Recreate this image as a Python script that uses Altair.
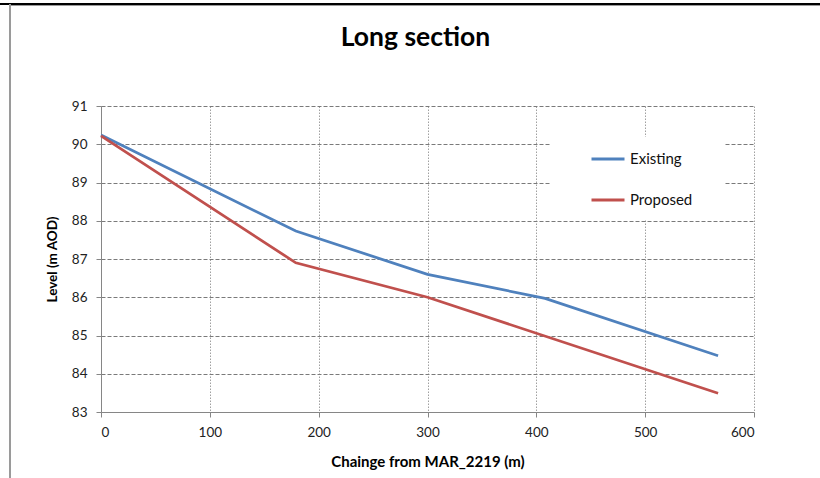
import altair as alt
import pandas as pd

# Chainage (m) and bed level (m AOD) along the reach
chainage_existing = [0, 179, 300, 408, 567]
level_existing = [90.24, 87.73, 86.60, 85.97, 84.47]
chainage_proposed = [0, 179, 300, 567]
level_proposed = [90.22, 86.90, 86.00, 83.49]

series_names = ["Existing", "Proposed"]
series_colors = ["#4F81BD", "#C0504D"]
x_ticks = [0, 100, 200, 300, 400, 500, 600]
y_ticks = [83, 84, 85, 86, 87, 88, 89, 90, 91]

rows = []
for c, l in zip(chainage_existing, level_existing):
    rows.append({"series": series_names[0], "chainage": c, "level": l})
for c, l in zip(chainage_proposed, level_proposed):
    rows.append({"series": series_names[1], "chainage": c, "level": l})
df = pd.DataFrame(rows)

FONT = "Lato"
W, H = 653, 306
PAD_L, PAD_T = 101, 106

lines = alt.Chart(df).mark_line(strokeWidth=2.75).encode(
    x=alt.X(
        "chainage:Q",
        scale=alt.Scale(domain=[0, 600], nice=False),
        axis=alt.Axis(
            values=x_ticks,
            title="Chainge from MAR_2219 (m)",
            titleFont=FONT, titleFontSize=15, titleFontWeight="bold", titleColor="#000",
            titleBaseline="middle", titleY=49, titleX=W / 2,
            labelFont=FONT, labelFontSize=13.5, labelColor="#222", labelPadding=8,
            domainColor="#868686", tickColor="#868686", tickSize=5,
            grid=True, gridColor="#a0a0a0", gridDash=[1.5, 1.5], gridWidth=1,
        ),
    ),
    y=alt.Y(
        "level:Q",
        scale=alt.Scale(domain=[83, 91], zero=False, nice=False),
        axis=alt.Axis(
            values=y_ticks,
            title="Level (m AOD)",
            titleFont=FONT, titleFontSize=13.5, titleFontWeight="bold", titleColor="#000",
            titleBaseline="middle", titleX=-49, titleY=H / 2, titleAngle=-90,
            labelFont=FONT, labelFontSize=13.5, labelColor="#222", labelPadding=9,
            domainColor="#868686", tickColor="#868686", tickSize=5,
            grid=True, gridColor="#7a7a7a", gridDash=[4, 2], gridWidth=1,
        ),
    ),
    color=alt.Color(
        "series:N",
        scale=alt.Scale(domain=series_names, range=series_colors),
        legend=alt.Legend(
            title=None, orient="none", legendX=450, legendY=31, padding=4,
            symbolType="stroke", symbolSize=1089, symbolStrokeWidth=3,
            symbolOffset=35, rowPadding=15, labelOffset=4,
            labelFont=FONT, labelFontSize=15, labelColor="#111",
        ),
    ),
)

# White panel behind the legend, masking the grid there
legend_panel = alt.Chart(df).mark_rect(color="white").encode(
    x=alt.value(450), x2=alt.value(624), y=alt.value(31), y2=alt.value(113)
)

# Outer frame: dark rule along the top, grey rule down the left side
top_rule = alt.Chart(df).mark_rule(color="black", strokeWidth=2).encode(
    x=alt.value(-PAD_L), x2=alt.value(820 - PAD_L), y=alt.value(4 - PAD_T)
)
top_rule2 = alt.Chart(df).mark_rule(color="#9a9a9a", strokeWidth=1).encode(
    x=alt.value(10 - PAD_L), x2=alt.value(820 - PAD_L), y=alt.value(5.5 - PAD_T)
)
left_rule = alt.Chart(df).mark_rule(color="#9a9a9a", strokeWidth=2).encode(
    x=alt.value(10 - PAD_L), y=alt.value(4 - PAD_T), y2=alt.value(478 - PAD_T)
)

chart = alt.layer(legend_panel, lines, top_rule, top_rule2, left_rule).properties(
    width=W, height=H,
    title=alt.TitleParams(
        "Long section", font=FONT, fontSize=26.5, fontWeight="bold", color="#000",
        anchor="middle", dx=-12, offset=-69, baseline="alphabetic",
    ),
    padding={"left": PAD_L, "top": PAD_T, "right": 820 - PAD_L - W, "bottom": 478 - PAD_T - H},
    autosize="none",
    background="white",
).configure_view(stroke=None)

chart.save("out.html", embed_options={"renderer": "svg", "actions": False})
